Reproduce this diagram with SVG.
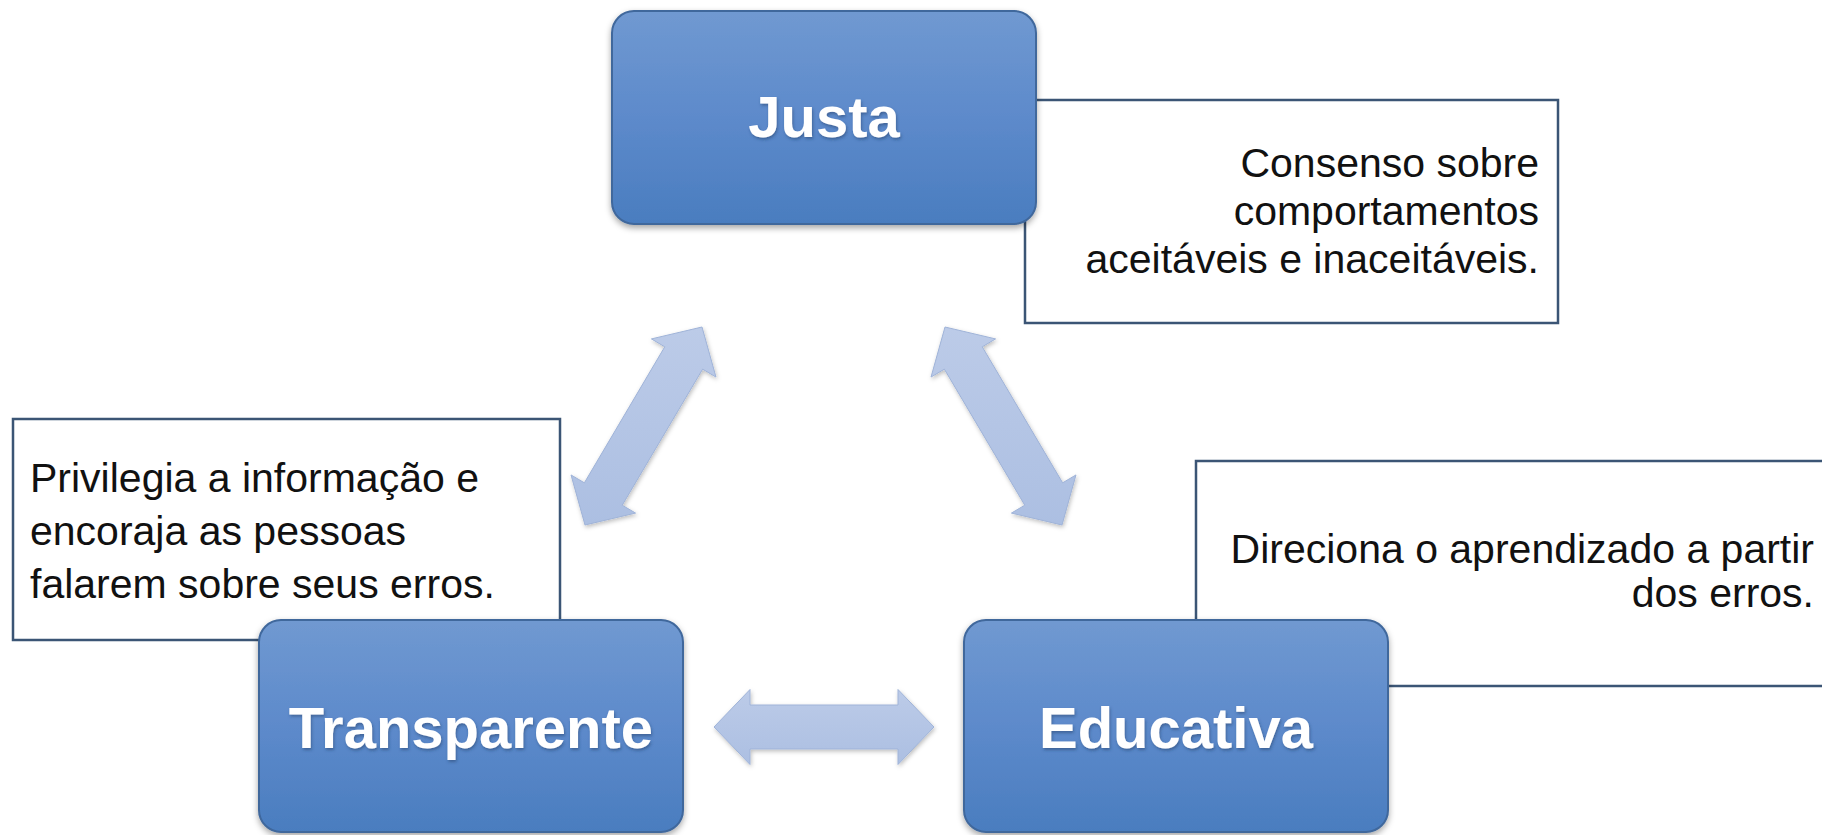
<svg xmlns="http://www.w3.org/2000/svg" width="1822" height="835" viewBox="0 0 1822 835">
<defs>
<linearGradient id="boxGrad" x1="0" y1="0" x2="0" y2="1">
<stop offset="0" stop-color="#7099d1"/>
<stop offset="0.5" stop-color="#5d8acb"/>
<stop offset="1" stop-color="#4a7dbf"/>
</linearGradient>
<linearGradient id="edgeGrad" x1="0" y1="0" x2="0" y2="1">
<stop offset="0" stop-color="#cfe3fb" stop-opacity="0.2"/>
<stop offset="0.15" stop-color="#cfe3fb" stop-opacity="0.9"/>
<stop offset="0.85" stop-color="#cfe3fb" stop-opacity="0.9"/>
<stop offset="1" stop-color="#cfe3fb" stop-opacity="0.2"/>
</linearGradient>
<linearGradient id="arrowGrad" x1="0" y1="0" x2="0" y2="1">
<stop offset="0" stop-color="#bccbe8"/>
<stop offset="1" stop-color="#acbfe2"/>
</linearGradient>
<filter id="shadow" x="-10%" y="-10%" width="120%" height="125%">
<feDropShadow dx="0" dy="3" stdDeviation="3" flood-color="#000" flood-opacity="0.35"/>
</filter>
<filter id="ashadow" x="-20%" y="-20%" width="140%" height="140%">
<feDropShadow dx="1" dy="2" stdDeviation="2" flood-color="#000" flood-opacity="0.25"/>
</filter>
<filter id="tshadow" x="-5%" y="-5%" width="110%" height="120%">
<feDropShadow dx="1" dy="2" stdDeviation="1.5" flood-color="#1d3b66" flood-opacity="0.5"/>
</filter>
</defs>
<style>
.callout { fill: #ffffff; stroke: #3b5575; stroke-width: 2.5; }
.ctext { font-family: "Liberation Sans", Arial, sans-serif; font-size: 41px; fill: #111111; }
.box { fill: url(#boxGrad); stroke: #3f679c; stroke-width: 2; filter: url(#shadow); }
.edge { fill: none; stroke: url(#edgeGrad); stroke-width: 4; }
.label { font-family: "Liberation Sans", Arial, sans-serif; font-weight: 700; font-size: 58px; fill: #ffffff; text-anchor: middle; filter: url(#tshadow); }
.arrow { fill: url(#arrowGrad); stroke: #9fb3d8; stroke-width: 1; filter: url(#ashadow); }
</style>
<rect width="1822" height="835" fill="#ffffff"/>

<g id="callout-justa">
<rect class="callout" x="1025" y="100" width="533" height="223"/>
<text class="ctext" text-anchor="end"><tspan x="1539" y="177">Consenso sobre</tspan><tspan x="1539" y="225">comportamentos</tspan><tspan x="1539" y="273">aceitáveis e inaceitáveis.</tspan></text>
</g>

<g id="callout-transparente">
<rect class="callout" x="13" y="419" width="547" height="221"/>
<text class="ctext"><tspan x="30" y="492">Privilegia a informação e</tspan><tspan x="30" y="545">encoraja as pessoas</tspan><tspan x="30" y="598">falarem sobre seus erros.</tspan></text>
</g>

<g id="callout-educativa">
<path class="callout" d="M1850,461 H1196 V686 H1850"/>
<text class="ctext" text-anchor="end"><tspan x="1814" y="563">Direciona o aprendizado a partir</tspan><tspan x="1814" y="607">dos erros.</tspan></text>
</g>

<g id="connectors">
<polygon class="arrow" points="702,327 715.97,377.07 702.63,369.18 622.25,505.2 635.59,513.09 585,525 571.03,474.93 584.37,482.82 664.75,346.8 651.41,338.91"/>
<polygon class="arrow" points="945,327 931.03,377.07 944.37,369.18 1024.75,505.2 1011.41,513.09 1062,525 1075.97,474.93 1062.63,482.82 982.25,346.8 995.59,338.91"/>
<polygon class="arrow" points="714,727 750,689.5 750,705 898,705 898,689.5 934,727 898,764.5 898,749 750,749 750,764.5"/>
</g>

<g id="node-justa">
<rect class="box" x="612" y="11" width="424" height="213" rx="22"/>
<line class="edge" x1="620" y1="30" x2="620" y2="205"/>
<line class="edge" x1="1028" y1="30" x2="1028" y2="205" stroke-opacity="0.6"/>
<text class="label" x="824" y="137">Justa</text>
</g>

<g id="node-transparente">
<rect class="box" x="259" y="620" width="424" height="212" rx="22"/>
<line class="edge" x1="267" y1="639" x2="267" y2="814"/>
<line class="edge" x1="675" y1="639" x2="675" y2="814" stroke-opacity="0.6"/>
<text class="label" x="471" y="748">Transparente</text>
</g>

<g id="node-educativa">
<rect class="box" x="964" y="620" width="424" height="212" rx="22"/>
<line class="edge" x1="972" y1="639" x2="972" y2="814"/>
<line class="edge" x1="1380" y1="639" x2="1380" y2="814" stroke-opacity="0.6"/>
<text class="label" x="1176" y="748">Educativa</text>
</g>
</svg>
